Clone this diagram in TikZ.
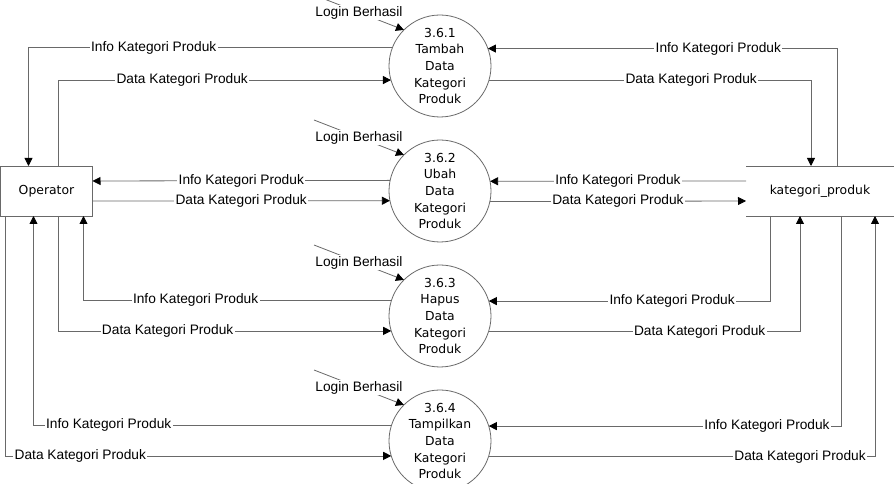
\documentclass[tikz,border=0pt]{standalone}
\usepackage{fontspec}
\setmainfont{Liberation Sans}
\newfontfamily\dfdfont{DejaVu Sans}
\usetikzlibrary{calc,shapes,arrows.meta}
\definecolor{lngray}{RGB}{105,105,105}

\begin{document}
\begin{tikzpicture}[x=0.75pt,y=-0.75pt,
    proc/.style={circle,draw=lngray,line width=0.6pt,minimum size=76.5pt,inner sep=0pt,outer sep=0pt,align=center,font=\dfdfont\fontsize{9.3}{12.4}\selectfont},
    ent/.style={rectangle,draw=lngray,line width=0.6pt,minimum width=69pt,minimum height=37.5pt,outer sep=0pt,font=\dfdfont\fontsize{9.3}{12.4}\selectfont},
    store/.style={rectangle,minimum width=111pt,minimum height=37.5pt,outer sep=0pt,font=\dfdfont\fontsize{9.3}{12.4}\selectfont},
    flow/.style={draw=lngray,line width=0.6pt,-{Triangle[length=6pt,width=6pt,color=black]}},
    lbl/.style={fill=white,inner sep=1pt,font=\fontsize{10.3}{12}\selectfont}]
      \useasboundingbox (0,0) rectangle (894,484);

      \node[ent] (op) at (46.5,191) {Operator};
      \node[store] (kp) at (820,191) {kategori\_produk};
      \draw[lngray,line width=0.6pt] (kp.north west) -- (kp.north east);
      \draw[lngray,line width=0.6pt] (kp.south west) -- (kp.south east);

      \node[proc] (p1) at (440,66) {3.6.1\\Tambah\\Data\\Kategori\\Produk};
      \node[proc] (p2) at (440,191) {3.6.2\\Ubah\\Data\\Kategori\\Produk};
      \node[proc] (p3) at (440,316) {3.6.3\\Hapus\\Data\\Kategori\\Produk};
      \node[proc] (p4) at (440,441) {3.6.4\\Tampilkan\\Data\\Kategori\\Produk};

      \coordinate (l1) at (314,-5);
      \coordinate (l2) at (314,120);
      \coordinate (l3) at (314,245);
      \coordinate (l4) at (314,370);
      \draw[flow] (l1) -- node[lbl]{Login Berhasil} (p1.135);
      \draw[flow] (l2) -- node[lbl]{Login Berhasil} (p2.135);
      \draw[flow] (l3) -- node[lbl]{Login Berhasil} (p3.135);
      \draw[flow] (l4) -- node[lbl]{Login Berhasil} (p4.135);

      \draw[flow] (p1.159.3) -| node[lbl,pos=0.328]{Info Kategori Produk} ($(op.north)+(-18,0)$);
      \draw[flow] ($(op.north)+(12,0)$) |- node[lbl,pos=0.686]{Data Kategori Produk} (p1.196);
      \draw[flow] (p2.168.7) -- node[lbl]{Info Kategori Produk} ($(op.east)+(0,-10)$);
      \draw[flow] ($(op.east)+(0,10)$) -- node[lbl]{Data Kategori Produk} (p2.191.3);
      \draw[flow] (p3.162.9) -| node[lbl,pos=0.318]{Info Kategori Produk} ($(op.south)+(37,0)$);
      \draw[flow] ($(op.south)+(12,0)$) |- node[lbl,pos=0.664]{Data Kategori Produk} (p3.197.1);
      \draw[flow] (p4.162.9) -| node[lbl,pos=0.395]{Info Kategori Produk} ($(op.south)+(-13,0)$);
      \draw[flow] ($(op.south)+(-41,0)$) |- node[lbl,pos=0.597]{Data Kategori Produk} (p4.197.1);

      \draw[flow] ($(kp.north)+(17,0)$) |- node[lbl,pos=0.67]{Info Kategori Produk} (p1.20.7);
      \draw[flow] (p1.344) -| node[lbl,pos=0.314]{Data Kategori Produk} ($(kp.north)+(-9,0)$);
      \draw[flow] ($(kp.west)+(0,-10)$) -- node[lbl]{Info Kategori Produk} (p2.11.3);
      \draw[flow] (p2.348.7) -- node[lbl]{Data Kategori Produk} ($(kp.west)+(0,10)$);
      \draw[flow] ($(kp.south)+(-50,0)$) |- node[lbl,pos=0.674]{Info Kategori Produk} (p3.17.1);
      \draw[flow] (p3.342.9) -| node[lbl,pos=0.339]{Data Kategori Produk} ($(kp.south)+(-20,0)$);
      \draw[flow] ($(kp.south)+(21,0)$) |- node[lbl,pos=0.605]{Info Kategori Produk} (p4.17.1);
      \draw[flow] (p4.342.9) -| node[lbl,pos=0.403]{Data Kategori Produk} ($(kp.south)+(55,0)$);
    \end{tikzpicture}
\end{document}
